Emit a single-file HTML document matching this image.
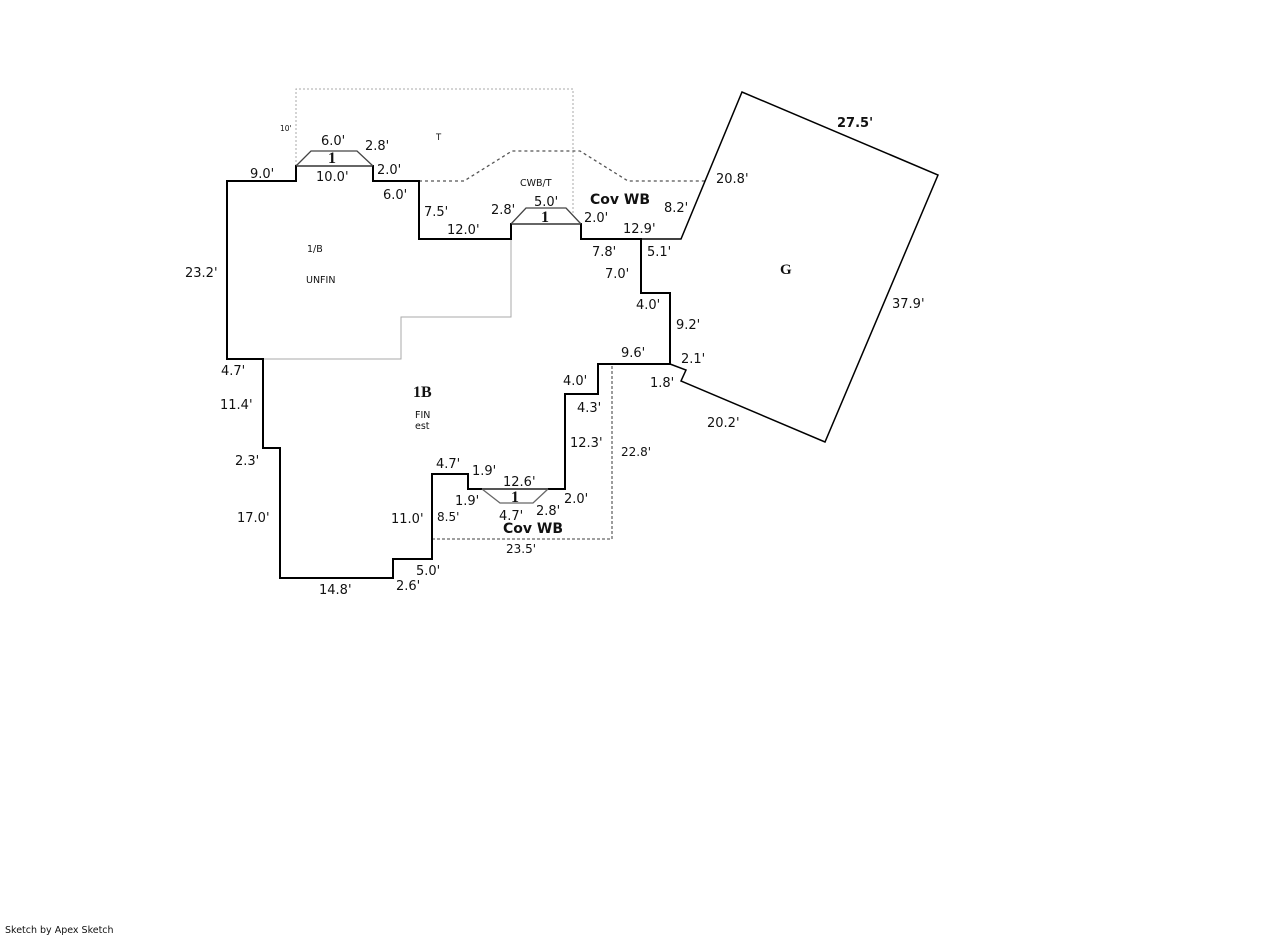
<!DOCTYPE html>
<html><head><style>
body{margin:0;background:#fff;}
svg text{font-family:"DejaVu Sans","Liberation Sans",sans-serif;font-size:13px;fill:#111;}
.s{font-size:9.5px;}
.b{font-weight:bold;}
</style></head><body>
<svg width="1274" height="935" viewBox="0 0 1274 935">
<g fill="none">
<polyline points="296,166 296,89 573,89 573,215" stroke="#aaa" stroke-width="1" stroke-dasharray="2,2"/>
<polyline points="419,181 464,181 512,151 580,151 628,181 706,181" stroke="#555" stroke-width="1.3" stroke-dasharray="3,3"/>
<polyline points="263,359 401,359 401,317 511,317 511,239" stroke="#aaa" stroke-width="1"/>
<polyline points="432,539 612,539 612,364" stroke="#666" stroke-width="1.3" stroke-dasharray="3,2"/>
<polygon points="227,181 296,181 296,166 373,166 373,181 419,181 419,239 511,239 511,224 581,224 581,239 641,239 641,293 670,293 670,364 598,364 598,394 565,394 565,489 468,489 468,474 432,474 432,559 393,559 393,578 280,578 280,448 263,448 263,359 227,359" stroke="#000" stroke-width="2"/>
<line x1="297" y1="166" x2="372" y2="166" stroke="#666" stroke-width="2"/>
<polyline points="296,166 311,151 357,151 373,166" stroke="#444" stroke-width="1.3"/>
<line x1="512" y1="224" x2="580" y2="224" stroke="#666" stroke-width="2"/>
<polyline points="511,224 526,208 566,208 581,224" stroke="#444" stroke-width="1.3"/>
<polyline points="482,489 500,503 533,503 548,489" stroke="#666" stroke-width="1.3"/>
<line x1="482" y1="489" x2="548" y2="489" stroke="#555" stroke-width="2"/>
<polyline points="641,239 681,239 742,92 938,175 825,442 681,381 686,370 670,364" stroke="#000" stroke-width="1.5"/>
</g>
<text x="250" y="178">9.0'</text>
<text x="321" y="145">6.0'</text>
<text x="365" y="150">2.8'</text>
<text x="377" y="174">2.0'</text>
<text x="316" y="181">10.0'</text>
<text x="383" y="199">6.0'</text>
<text x="424" y="216">7.5'</text>
<text x="447" y="234">12.0'</text>
<text x="491" y="214">2.8'</text>
<text x="534" y="206">5.0'</text>
<text x="584" y="222">2.0'</text>
<text x="623" y="233">12.9'</text>
<text x="664" y="212">8.2'</text>
<text x="716" y="183">20.8'</text>
<text x="837" y="127" class="b">27.5'</text>
<text x="892" y="308">37.9'</text>
<text x="707" y="427">20.2'</text>
<text x="592" y="256">7.8'</text>
<text x="647" y="256">5.1'</text>
<text x="605" y="278">7.0'</text>
<text x="636" y="309">4.0'</text>
<text x="676" y="329">9.2'</text>
<text x="621" y="357">9.6'</text>
<text x="681" y="363">2.1'</text>
<text x="650" y="387">1.8'</text>
<text x="563" y="385">4.0'</text>
<text x="577" y="412">4.3'</text>
<text x="570" y="447">12.3'</text>
<text x="621" y="456" style="font-size:12px">22.8'</text>
<text x="436" y="468">4.7'</text>
<text x="472" y="475">1.9'</text>
<text x="503" y="486">12.6'</text>
<text x="455" y="505">1.9'</text>
<text x="564" y="503">2.0'</text>
<text x="499" y="520">4.7'</text>
<text x="536" y="515">2.8'</text>
<text x="391" y="523">11.0'</text>
<text x="437" y="521" style="font-size:12px">8.5'</text>
<text x="506" y="553" style="font-size:12px">23.5'</text>
<text x="416" y="575">5.0'</text>
<text x="396" y="590">2.6'</text>
<text x="319" y="594">14.8'</text>
<text x="237" y="522">17.0'</text>
<text x="235" y="465">2.3'</text>
<text x="220" y="409">11.4'</text>
<text x="221" y="375">4.7'</text>
<text x="185" y="277">23.2'</text>
<text x="280" y="131" style="font-size:7.5px">10'</text>
<text x="436" y="140" style="font-size:8.5px">T</text>
<text x="520" y="186" class="s">CWB/T</text>
<text x="307" y="252" class="s">1/B</text>
<text x="306" y="283" class="s">UNFIN</text>
<text x="415" y="418" class="s">FIN</text>
<text x="415" y="429" class="s">est</text>
<text x="328" y="163" style="font-family:'Liberation Serif',serif;font-weight:bold;font-size:16px">1</text>
<text x="541" y="222" style="font-family:'Liberation Serif',serif;font-weight:bold;font-size:16px">1</text>
<text x="511" y="502" style="font-family:'Liberation Serif',serif;font-weight:bold;font-size:16px">1</text>
<text x="590" y="204" class="b" style="font-size:14px">Cov WB</text>
<text x="503" y="533" class="b" style="font-size:14px">Cov WB</text>
<text x="413" y="397" style="font-family:'Liberation Serif',serif;font-weight:bold;font-size:16px">1B</text>
<text x="780" y="274" style="font-family:'Liberation Serif',serif;font-weight:bold;font-size:15px">G</text>
<text x="5" y="933" style="font-size:9.5px">Sketch by Apex Sketch</text>
</svg>
</body></html>
